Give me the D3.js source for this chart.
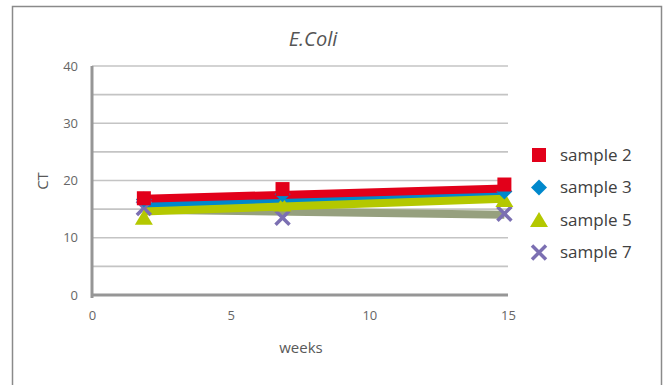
<!DOCTYPE html>
<html><head><meta charset="utf-8">
<script src="https://cdn.jsdelivr.net/npm/d3@7"></script>
<style>body{margin:0;background:#fff}svg{display:block}</style>
</head><body>
<svg id="c" width="666" height="385"></svg>
<script>
const title = "E.Coli";
const xLabel = "weeks";
const yLabel = "CT";
const weeks = [1.87, 6.87, 14.87];
const seriesNames = ["sample 2", "sample 3", "sample 5", "sample 7"];
const sample2 = [16.9, 18.5, 19.3];
const sample3 = [16.7, 17.6, 18.1];
const sample5 = [13.5, 15.8, 16.6];
const sample7 = [15.2, 13.5, 14.2];
// trend line values (at first and last week)
const trend2 = [16.8, 18.6];
const trend3 = [15.9, 17.8];
const trend5 = [14.6, 16.8];
const trend7 = [14.9, 14.0];
const xTicks = [0, 5, 10, 15];
const yTicks = [0, 10, 20, 30, 40];
const yGrid = [5, 10, 15, 20, 25, 30, 35, 40];

const colors = ["#e2001a", "#0088cc", "#b4c800", "#7b6fb2"];
const trendColors = ["#e2001a", "#0088cc", "#b4c800", "#96a07e"];
const shapes = ["square", "diamond", "triangle", "cross"];
const values = [sample2, sample3, sample5, sample7];
const trends = [trend2, trend3, trend5, trend7];

const svg = d3.select("#c");
const font = "'Open Sans', 'DejaVu Sans', sans-serif";
const txt = "#595959";

svg.append("rect").attr("x", 12.5).attr("y", 6.5).attr("width", 649).attr("height", 400)
  .attr("fill", "none").attr("stroke", "#8a8a8a").attr("stroke-width", 1.5);

const x = d3.scaleLinear().domain([0, 15]).range([92, 508]);
const y = d3.scaleLinear().domain([0, 40]).range([295, 66]);

// gridlines
svg.append("g").selectAll("line").data(yGrid).join("line")
  .attr("x1", x(0)).attr("x2", x(15)).attr("y1", d => y(d)).attr("y2", d => y(d))
  .attr("stroke", "#c4c4c4").attr("stroke-width", 1.6);

// axes
const gy = svg.append("g").attr("transform", `translate(${x(0)},0)`)
  .call(d3.axisLeft(y).tickValues(yTicks).tickSize(0).tickPadding(14));
const gx = svg.append("g").attr("transform", `translate(0,${y(0)})`)
  .call(d3.axisBottom(x).tickValues(xTicks).tickSize(0).tickPadding(16));
[gx, gy].forEach(g => {
  g.select(".domain").remove();
  g.selectAll("text").attr("fill", "#666").style("font-family", font).style("font-size", "13px");
});
svg.append("line").attr("x1", x(0)).attr("x2", x(0)).attr("y1", y(40)).attr("y2", y(0) + 3)
  .attr("stroke", "#969696").attr("stroke-width", 3);
svg.append("line").attr("x1", x(0)).attr("x2", x(15)).attr("y1", y(0)).attr("y2", y(0))
  .attr("stroke", "#969696").attr("stroke-width", 3);

// trend lines (drawn bottom to top)
const order = [3, 1, 2, 0];
const tg = svg.append("g");
order.forEach(i => {
  tg.append("line")
    .attr("x1", x(weeks[0])).attr("x2", x(weeks[weeks.length - 1]))
    .attr("y1", y(trends[i][0])).attr("y2", y(trends[i][1]))
    .attr("stroke", trendColors[i]).attr("stroke-width", 8);
});

function marker(g, shape, cx, cy, color, s) {
  if (shape === "square") {
    g.append("rect").attr("x", cx - s).attr("y", cy - s).attr("width", 2 * s).attr("height", 2 * s).attr("fill", color);
  } else if (shape === "diamond") {
    g.append("path").attr("d", `M${cx},${cy - s - 1}L${cx + s + 1},${cy}L${cx},${cy + s + 1}L${cx - s - 1},${cy}Z`).attr("fill", color);
  } else if (shape === "triangle") {
    g.append("path").attr("d", `M${cx},${cy - s - 1}L${cx + s + 2},${cy + s}L${cx - s - 2},${cy + s}Z`).attr("fill", color);
  } else {
    g.append("path").attr("d", `M${cx - s},${cy - s}L${cx + s},${cy + s}M${cx + s},${cy - s}L${cx - s},${cy + s}`)
      .attr("stroke", color).attr("stroke-width", 3.5).attr("fill", "none");
  }
}

const mg = svg.append("g");
[3, 2, 1, 0].forEach(i => {
  values[i].forEach((v, j) => marker(mg, shapes[i], x(weeks[j]), y(v), colors[i], 7));
});

// legend
const lg = svg.append("g");
seriesNames.forEach((n, i) => {
  const ly = 155 + i * 32.5;
  marker(lg, shapes[i], 539, ly, colors[i], 7);
  lg.append("text").attr("x", 560).attr("y", ly).attr("dy", "0.35em").text(n)
    .attr("fill", "#404040").style("font-family", font).style("font-size", "17px");
});

// title and labels
svg.append("text").attr("x", 313).attr("y", 46).attr("text-anchor", "middle").text(title)
  .attr("fill", "#555").style("font-family", font).style("font-size", "20px").style("font-style", "italic");
svg.append("text").attr("x", 301).attr("y", 353).attr("text-anchor", "middle").text(xLabel)
  .attr("fill", txt).style("font-family", font).style("font-size", "15px");
svg.append("text").attr("transform", "translate(48,181) rotate(-90)").attr("text-anchor", "middle").text(yLabel)
  .attr("fill", txt).style("font-family", font).style("font-size", "15px");
</script>
</body></html>
